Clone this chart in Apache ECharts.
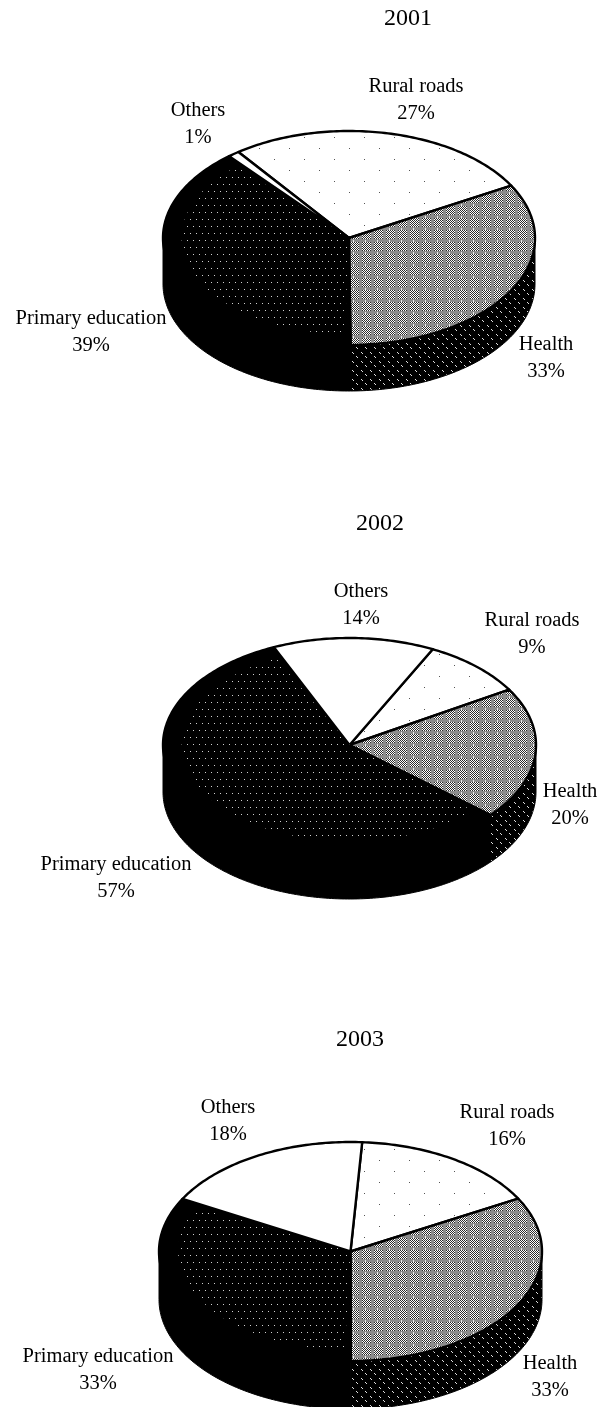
<!DOCTYPE html>
<html><head><meta charset="utf-8">
<style>html,body{margin:0;padding:0;background:#fff}#c{width:600px;height:1407px}</style>
<script src="https://cdn.jsdelivr.net/npm/echarts@6/dist/echarts.min.js"></script>
</head><body><div id="c"></div>
<script>
const categories = ['Rural roads', 'Health', 'Primary education', 'Others'];
const years = ['2001', '2002', '2003'];
const values2001 = [27, 33, 39, 1];
const values2002 = [9, 20, 57, 14];
const values2003 = [16, 33, 33, 18];
const firstAngles = [323.5, 26.5, 3.5];

// layout only
const pieBoxes = [
  {left:163, top:131, width:372, height:214, depth:46},
  {left:163, top:638, width:373, height:214, depth:47},
  {left:159, top:1142, width:383, height:219, depth:48}
];
const titlePos = [[408,19],[380,524],[360,1040]];
const labelPos = [
  [[416,87],[546,345],[91,319],[198,111]],
  [[532,621],[570,792],[116,865],[361,592]],
  [[507,1113],[550,1364],[98,1357],[228,1108]]
];
const LINE_GAP = 27;

function tile(w, h, draw) {
  const c = document.createElement('canvas');
  c.width = w; c.height = h;
  const g = c.getContext('2d');
  draw(g);
  return {image: c, repeat: 'repeat'};
}
const px = (g, col, x, y, s) => { g.fillStyle = col; g.fillRect(x, y, s || 1, s || 1); };
const grayFill = tile(12, 12, g => {
  px(g, '#8c8c8c', 0, 0, 12);
  for (let y = 2; y < 11; y++) for (let x = 2; x < 11; x++) {
    px(g, (x + y) % 2 ? '#ffffff' : '#2a2a2a', x, y);
  }
  px(g, '#e8e8e8', 5, 0, 1);
  px(g, '#e8e8e8', 5, 1, 1);
});
const blackDots = tile(12, 14, g => {
  g.fillStyle = '#000'; g.fillRect(0, 0, 12, 14);
  [[1,2],[7,2],[4,9],[10,9]].forEach(p => px(g, '#d0d0d0', p[0], p[1]));
});
const sideDots = tile(9, 9, g => {
  g.fillStyle = '#000'; g.fillRect(0, 0, 9, 9);
  [[1,1],[2,2],[5,5],[6,6]].forEach(p => px(g, '#e0e0e0', p[0], p[1]));
});
const whiteDots = tile(30, 22, g => {
  g.fillStyle = '#fff'; g.fillRect(0, 0, 30, 22);
  [[4,5],[19,16]].forEach(p => px(g, '#555', p[0], p[1]));
});
const topFills = [whiteDots, grayFill, '#000', '#fff'];
const innerFills = [null, null, blackDots, null];
const sideFills = ['#000', sideDots, '#000', '#000'];

const rad = d => d * Math.PI / 180;
function arc(api, a, b, r) {
  const pts = [];
  const n = Math.max(2, Math.ceil((b - a)));
  for (let i = 0; i <= n; i++) {
    const t = rad(a + (b - a) * i / n);
    pts.push(api.coord([r * Math.sin(t), r * Math.cos(t)]));
  }
  return pts;
}
// visible (front) part of the rim: clockwise angles 90..270, modulo 360
function frontParts(a, b) {
  const parts = [];
  for (const k of [-360, 0, 360]) {
    const s = Math.max(a, 90 + k), e = Math.min(b, 270 + k);
    if (e > s) parts.push([s, e]);
  }
  return parts;
}
function pieSeries(idx, values) {
  const total = values.reduce((s, v) => s + v, 0);
  const box = pieBoxes[idx];
  const starts = [];
  values.reduce((acc, v, i) => { starts[i] = acc; return acc + v; }, 0);
  return {
    type: 'custom',
    coordinateSystem: 'cartesian2d',
    xAxisIndex: idx, yAxisIndex: idx,
    clip: false, silent: true, animation: false,
    encode: {x: 0, y: 1},
    z: 2,
    data: values.map((v, i) => [0, v, i]),
    renderItem(params, api) {
      const i = params.dataIndex;
      const a = firstAngles[idx] + starts[i] / total * 360;
      const b = a + api.value(1) / total * 360;
      const centre = api.coord([0, 0]);
      const children = [];
      frontParts(a, b).forEach(p => {
        const rim = arc(api, p[0], p[1], 1);
        const low = rim.slice().reverse().map(q => [q[0], q[1] + box.depth]);
        children.push({type: 'polygon', z2: 1, shape: {points: rim.concat(low)},
          style: {fill: sideFills[i], stroke: '#000', lineWidth: 1}});
      });
      const top = [centre].concat(arc(api, a, b, 1));
      children.push({type: 'polygon', z2: 5, shape: {points: top},
        style: {fill: topFills[i], stroke: '#000', lineWidth: 2.4, lineJoin: 'round'}});
      if (innerFills[i]) {
        children.push({type: 'polygon', z2: 6, shape: {points: [centre].concat(arc(api, a + 2, b - 2, 0.9))},
          style: {fill: innerFills[i]}});
      }
      return {type: 'group', children};
    }
  };
}
const font = '"Liberation Serif", "Times New Roman", serif';
const texts = [];
years.forEach((y, k) => {
  texts.push({type: 'text', x: titlePos[k][0], y: titlePos[k][1], z: 10,
    style: {text: y, font: '24px ' + font, fill: '#000', textAlign: 'center', textVerticalAlign: 'middle'}});
});
[values2001, values2002, values2003].forEach((vals, k) => {
  vals.forEach((v, i) => {
    const p = labelPos[k][i];
    texts.push({type: 'text', x: p[0], y: p[1], z: 10,
      style: {text: categories[i], font: '20.5px ' + font, fill: '#000', textAlign: 'center', textVerticalAlign: 'middle'}});
    texts.push({type: 'text', x: p[0], y: p[1] + LINE_GAP, z: 10,
      style: {text: v + '%', font: '20.5px ' + font, fill: '#000', textAlign: 'center', textVerticalAlign: 'middle'}});
  });
});
const axisBase = {type: 'value', min: -1, max: 1, show: false};
const chart = echarts.init(document.getElementById('c'), null, {renderer: 'canvas'});
chart.setOption({
  animation: false,
  backgroundColor: '#fff',
  grid: pieBoxes.map(b => ({left: b.left, top: b.top, width: b.width, height: b.height})),
  xAxis: pieBoxes.map((b, i) => Object.assign({gridIndex: i}, axisBase)),
  yAxis: pieBoxes.map((b, i) => Object.assign({gridIndex: i}, axisBase)),
  series: [pieSeries(0, values2001), pieSeries(1, values2002), pieSeries(2, values2003)],
  graphic: texts
});
</script></body></html>
